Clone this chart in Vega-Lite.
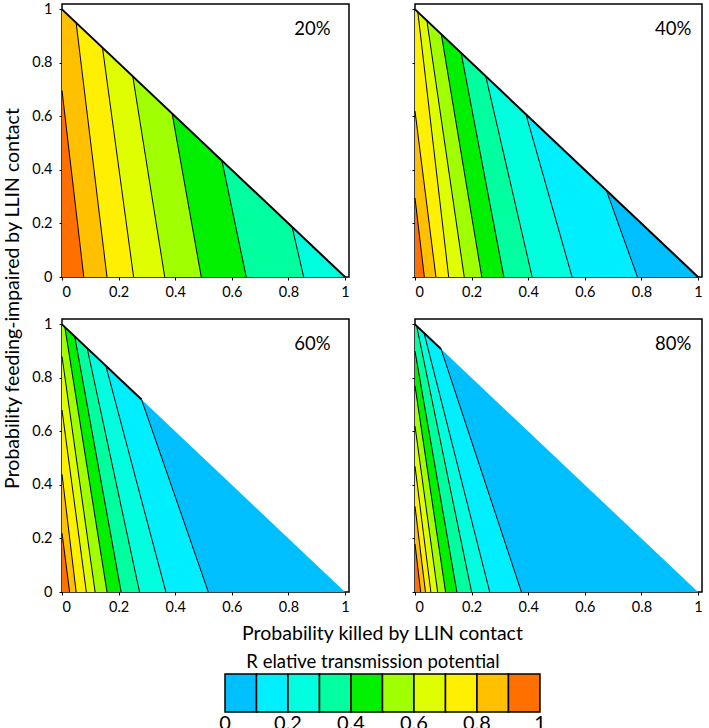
{
  "$schema": "https://vega.github.io/schema/vega-lite/v6.json",
  "padding": {"left": 1, "top": 0, "right": 4, "bottom": 0},
  "autosize": {"type": "pad"},
  "config": {
    "font": "Lato",
    "view": {"stroke": "black", "strokeWidth": 1.5},
    "axis": {"grid": false, "domain": false, "labelFont": "Lato", "labelFontSize": 14.5, "labelColor": "black", "tickColor": "black", "titleFont": "Lato", "titleFontWeight": "normal", "titleColor": "black", "titleFontSize": 19.5},
    "title": {"font": "Lato", "fontWeight": "normal", "color": "black"},
    "text": {"font": "Lato"}
  },
  "datasets": {
    "bands": [
      {"panel":"20%","level":2,"y":0,"x":1},{"panel":"20%","level":2,"y":1,"x":0},
      {"panel":"20%","level":3,"y":0,"x":0.854},{"panel":"20%","level":3,"y":0.187,"x":0.813},{"panel":"20%","level":3,"y":1,"x":0},
      {"panel":"20%","level":4,"y":0,"x":0.651},{"panel":"20%","level":4,"y":0.435,"x":0.565},{"panel":"20%","level":4,"y":1,"x":0},
      {"panel":"20%","level":5,"y":0,"x":0.492},{"panel":"20%","level":5,"y":0.611,"x":0.389},{"panel":"20%","level":5,"y":1,"x":0},
      {"panel":"20%","level":6,"y":0,"x":0.363},{"panel":"20%","level":6,"y":0.75,"x":0.25},{"panel":"20%","level":6,"y":1,"x":0},
      {"panel":"20%","level":7,"y":0,"x":0.253},{"panel":"20%","level":7,"y":0.857,"x":0.143},{"panel":"20%","level":7,"y":1,"x":0},
      {"panel":"20%","level":8,"y":0,"x":0.159},{"panel":"20%","level":8,"y":0.95,"x":0.05},{"panel":"20%","level":8,"y":1,"x":0},
      {"panel":"20%","level":9,"y":0,"x":0.077},{"panel":"20%","level":9,"y":0.697,"x":0},

      {"panel":"40%","level":0,"y":0,"x":1},{"panel":"40%","level":0,"y":1,"x":0},
      {"panel":"40%","level":1,"y":0,"x":0.786},{"panel":"40%","level":1,"y":0.324,"x":0.676},{"panel":"40%","level":1,"y":1,"x":0},
      {"panel":"40%","level":2,"y":0,"x":0.555},{"panel":"40%","level":2,"y":0.608,"x":0.392},{"panel":"40%","level":2,"y":1,"x":0},
      {"panel":"40%","level":3,"y":0,"x":0.414},{"panel":"40%","level":3,"y":0.75,"x":0.25},{"panel":"40%","level":3,"y":1,"x":0},
      {"panel":"40%","level":4,"y":0,"x":0.314},{"panel":"40%","level":4,"y":0.837,"x":0.163},{"panel":"40%","level":4,"y":1,"x":0},
      {"panel":"40%","level":5,"y":0,"x":0.236},{"panel":"40%","level":5,"y":0.907,"x":0.093},{"panel":"40%","level":5,"y":1,"x":0},
      {"panel":"40%","level":6,"y":0,"x":0.174},{"panel":"40%","level":6,"y":0.958,"x":0.042},{"panel":"40%","level":6,"y":1,"x":0},
      {"panel":"40%","level":7,"y":0,"x":0.119},{"panel":"40%","level":7,"y":0.99,"x":0.01},{"panel":"40%","level":7,"y":1,"x":0},
      {"panel":"40%","level":8,"y":0,"x":0.074},{"panel":"40%","level":8,"y":0.62,"x":0},
      {"panel":"40%","level":9,"y":0,"x":0.033},{"panel":"40%","level":9,"y":0.295,"x":0},

      {"panel":"60%","level":0,"y":0,"x":1},{"panel":"60%","level":0,"y":1,"x":0},
      {"panel":"60%","level":1,"y":0,"x":0.517},{"panel":"60%","level":1,"y":0.719,"x":0.281},{"panel":"60%","level":1,"y":1,"x":0},
      {"panel":"60%","level":2,"y":0,"x":0.367},{"panel":"60%","level":2,"y":0.845,"x":0.155},{"panel":"60%","level":2,"y":1,"x":0},
      {"panel":"60%","level":3,"y":0,"x":0.274},{"panel":"60%","level":3,"y":0.911,"x":0.089},{"panel":"60%","level":3,"y":1,"x":0},
      {"panel":"60%","level":4,"y":0,"x":0.209},{"panel":"60%","level":4,"y":0.955,"x":0.045},{"panel":"60%","level":4,"y":1,"x":0},
      {"panel":"60%","level":5,"y":0,"x":0.159},{"panel":"60%","level":5,"y":0.99,"x":0.01},{"panel":"60%","level":5,"y":1,"x":0},
      {"panel":"60%","level":6,"y":0,"x":0.117},{"panel":"60%","level":6,"y":0.88,"x":0},
      {"panel":"60%","level":7,"y":0,"x":0.086},{"panel":"60%","level":7,"y":0.68,"x":0},
      {"panel":"60%","level":8,"y":0,"x":0.05},{"panel":"60%","level":8,"y":0.44,"x":0},
      {"panel":"60%","level":9,"y":0,"x":0.027},{"panel":"60%","level":9,"y":0.22,"x":0},

      {"panel":"80%","level":0,"y":0,"x":1},{"panel":"80%","level":0,"y":1,"x":0},
      {"panel":"80%","level":1,"y":0,"x":0.376},{"panel":"80%","level":1,"y":0.908,"x":0.092},{"panel":"80%","level":1,"y":1,"x":0},
      {"panel":"80%","level":2,"y":0,"x":0.264},{"panel":"80%","level":2,"y":0.968,"x":0.032},{"panel":"80%","level":2,"y":1,"x":0},
      {"panel":"80%","level":3,"y":0,"x":0.2},{"panel":"80%","level":3,"y":0.994,"x":0.006},{"panel":"80%","level":3,"y":1,"x":0},
      {"panel":"80%","level":4,"y":0,"x":0.148},{"panel":"80%","level":4,"y":0.9,"x":0},
      {"panel":"80%","level":5,"y":0,"x":0.108},{"panel":"80%","level":5,"y":0.77,"x":0},
      {"panel":"80%","level":6,"y":0,"x":0.08},{"panel":"80%","level":6,"y":0.62,"x":0},
      {"panel":"80%","level":7,"y":0,"x":0.056},{"panel":"80%","level":7,"y":0.47,"x":0},
      {"panel":"80%","level":8,"y":0,"x":0.037},{"panel":"80%","level":8,"y":0.32,"x":0},
      {"panel":"80%","level":9,"y":0,"x":0.02},{"panel":"80%","level":9,"y":0.18,"x":0}
    ],
    "contours": [
      {"panel":"20%","id":3,"x":0.854,"y":0},{"panel":"20%","id":3,"x":0.813,"y":0.187},
      {"panel":"20%","id":4,"x":0.651,"y":0},{"panel":"20%","id":4,"x":0.565,"y":0.435},
      {"panel":"20%","id":5,"x":0.492,"y":0},{"panel":"20%","id":5,"x":0.389,"y":0.611},
      {"panel":"20%","id":6,"x":0.363,"y":0},{"panel":"20%","id":6,"x":0.25,"y":0.75},
      {"panel":"20%","id":7,"x":0.253,"y":0},{"panel":"20%","id":7,"x":0.143,"y":0.857},
      {"panel":"20%","id":8,"x":0.159,"y":0},{"panel":"20%","id":8,"x":0.05,"y":0.95},
      {"panel":"20%","id":9,"x":0.077,"y":0},{"panel":"20%","id":9,"x":0,"y":0.697},

      {"panel":"40%","id":1,"x":0.786,"y":0},{"panel":"40%","id":1,"x":0.676,"y":0.324},
      {"panel":"40%","id":2,"x":0.555,"y":0},{"panel":"40%","id":2,"x":0.392,"y":0.608},
      {"panel":"40%","id":3,"x":0.414,"y":0},{"panel":"40%","id":3,"x":0.25,"y":0.75},
      {"panel":"40%","id":4,"x":0.314,"y":0},{"panel":"40%","id":4,"x":0.163,"y":0.837},
      {"panel":"40%","id":5,"x":0.236,"y":0},{"panel":"40%","id":5,"x":0.093,"y":0.907},
      {"panel":"40%","id":6,"x":0.174,"y":0},{"panel":"40%","id":6,"x":0.042,"y":0.958},
      {"panel":"40%","id":7,"x":0.119,"y":0},{"panel":"40%","id":7,"x":0.01,"y":0.99},
      {"panel":"40%","id":8,"x":0.074,"y":0},{"panel":"40%","id":8,"x":0,"y":0.62},
      {"panel":"40%","id":9,"x":0.033,"y":0},{"panel":"40%","id":9,"x":0,"y":0.295},

      {"panel":"60%","id":1,"x":0.517,"y":0},{"panel":"60%","id":1,"x":0.281,"y":0.719},
      {"panel":"60%","id":2,"x":0.367,"y":0},{"panel":"60%","id":2,"x":0.155,"y":0.845},
      {"panel":"60%","id":3,"x":0.274,"y":0},{"panel":"60%","id":3,"x":0.089,"y":0.911},
      {"panel":"60%","id":4,"x":0.209,"y":0},{"panel":"60%","id":4,"x":0.045,"y":0.955},
      {"panel":"60%","id":5,"x":0.159,"y":0},{"panel":"60%","id":5,"x":0.01,"y":0.99},
      {"panel":"60%","id":6,"x":0.117,"y":0},{"panel":"60%","id":6,"x":0,"y":0.88},
      {"panel":"60%","id":7,"x":0.086,"y":0},{"panel":"60%","id":7,"x":0,"y":0.68},
      {"panel":"60%","id":8,"x":0.05,"y":0},{"panel":"60%","id":8,"x":0,"y":0.44},
      {"panel":"60%","id":9,"x":0.027,"y":0},{"panel":"60%","id":9,"x":0,"y":0.22},

      {"panel":"80%","id":1,"x":0.376,"y":0},{"panel":"80%","id":1,"x":0.092,"y":0.908},
      {"panel":"80%","id":2,"x":0.264,"y":0},{"panel":"80%","id":2,"x":0.032,"y":0.968},
      {"panel":"80%","id":3,"x":0.2,"y":0},{"panel":"80%","id":3,"x":0.006,"y":0.994},
      {"panel":"80%","id":4,"x":0.148,"y":0},{"panel":"80%","id":4,"x":0,"y":0.9},
      {"panel":"80%","id":5,"x":0.108,"y":0},{"panel":"80%","id":5,"x":0,"y":0.77},
      {"panel":"80%","id":6,"x":0.08,"y":0},{"panel":"80%","id":6,"x":0,"y":0.62},
      {"panel":"80%","id":7,"x":0.056,"y":0},{"panel":"80%","id":7,"x":0,"y":0.47},
      {"panel":"80%","id":8,"x":0.037,"y":0},{"panel":"80%","id":8,"x":0,"y":0.32},
      {"panel":"80%","id":9,"x":0.02,"y":0},{"panel":"80%","id":9,"x":0,"y":0.18}
    ],
    "edges": [
      {"panel":"20%","x":0,"y":1},{"panel":"20%","x":1,"y":0},
      {"panel":"40%","x":0,"y":1},{"panel":"40%","x":1,"y":0},
      {"panel":"60%","x":0,"y":1},{"panel":"60%","x":0.281,"y":0.719},
      {"panel":"80%","x":0,"y":1},{"panel":"80%","x":0.092,"y":0.908}
    ],
    "legend": [
      {"level":0,"lo":0,"hi":0.1},{"level":1,"lo":0.1,"hi":0.2},{"level":2,"lo":0.2,"hi":0.3},{"level":3,"lo":0.3,"hi":0.4},{"level":4,"lo":0.4,"hi":0.5},
      {"level":5,"lo":0.5,"hi":0.6},{"level":6,"lo":0.6,"hi":0.7},{"level":7,"lo":0.7,"hi":0.8},{"level":8,"lo":0.8,"hi":0.9},{"level":9,"lo":0.9,"hi":1}
    ],
    "legendLabels": [
      {"value":0,"label":"0"},{"value":0.2,"label":"0.2"},{"value":0.4,"label":"0.4"},{"value":0.6,"label":"0.6"},{"value":0.8,"label":"0.8"},{"value":1,"label":"1"}
    ]
  },
  "bounds": "flush",
  "columns": 2,
  "spacing": {"row": 42, "column": 66},
  "concat": [
    {
      "width": 287, "height": 273,
      "layer": [
        {"data": {"name": "bands"}, "transform": [{"filter": "datum.panel === '20%'"}],
         "mark": {"type": "area", "orient": "horizontal", "interpolate": "linear"},
         "encoding": {
           "y": {"field": "y", "type": "quantitative", "scale": {"domain": [0, 1.02], "nice": false, "zero": false},
                 "axis": {"values": [0,0.1,0.2,0.3,0.4,0.5,0.6,0.7,0.8,0.9,1], "labelExpr": "round(datum.value*10)%2==0 ? format(datum.value,'~g') : ''", "tickSize": 3, "labelPadding": 7,
                          "title": "Probability feeding-impaired by LLIN contact", "titleX": -44, "titleY": 294, "titleAngle": -90, "titleAlign": "center", "titleBaseline": "alphabetic"}},
           "x": {"field": "x", "type": "quantitative", "stack": null, "scale": {"domain": [0, 1.014], "nice": false},
                 "axis": {"values": [0,0.1,0.2,0.3,0.4,0.5,0.6,0.7,0.8,0.9,1], "labelExpr": "round(datum.value*10)%2==0 ? format(datum.value,'~g') : ''", "tickSize": 3, "labelPadding": 5, "title": null}},
           "color": {"field": "level", "type": "ordinal", "scale": {"domain": [0,1,2,3,4,5,6,7,8,9], "range": ["#00BFFF","#00EFFF","#00FFDF","#00FF9F","#00F000","#A0FF00","#DFFF00","#FFEF00","#FFC000","#FF7000"]}, "legend": null}
         }},
        {"data": {"name": "contours"}, "transform": [{"filter": "datum.panel === '20%'"}],
         "mark": {"type": "line", "color": "black", "strokeWidth": 1},
         "encoding": {"x": {"field": "x", "type": "quantitative"}, "y": {"field": "y", "type": "quantitative"}, "detail": {"field": "id", "type": "nominal"}}},
        {"data": {"name": "edges"}, "transform": [{"filter": "datum.panel === '20%'"}],
         "mark": {"type": "line", "color": "black", "strokeWidth": 2},
         "encoding": {"x": {"field": "x", "type": "quantitative"}, "y": {"field": "y", "type": "quantitative"}}},
        {"data": {"values": [{"label": "20%"}]},
         "mark": {"type": "text", "fontSize": 18.5, "align": "center", "baseline": "middle"},
         "encoding": {"x": {"datum": 0.885}, "y": {"datum": 0.925}, "text": {"field": "label", "type": "nominal"}}}
      ]
    },
    {
      "width": 287, "height": 273,
      "layer": [
        {"data": {"name": "bands"}, "transform": [{"filter": "datum.panel === '40%'"}],
         "mark": {"type": "area", "orient": "horizontal", "interpolate": "linear"},
         "encoding": {
           "y": {"field": "y", "type": "quantitative", "scale": {"domain": [0, 1.02], "nice": false, "zero": false},
                 "axis": {"values": [0,0.1,0.2,0.3,0.4,0.5,0.6,0.7,0.8,0.9,1], "labels": false, "tickSize": 3, "title": null}},
           "x": {"field": "x", "type": "quantitative", "stack": null, "scale": {"domain": [0, 1.014], "nice": false},
                 "axis": {"values": [0,0.1,0.2,0.3,0.4,0.5,0.6,0.7,0.8,0.9,1], "labelExpr": "round(datum.value*10)%2==0 ? format(datum.value,'~g') : ''", "tickSize": 3, "labelPadding": 5, "title": null}},
           "color": {"field": "level", "type": "ordinal", "scale": {"domain": [0,1,2,3,4,5,6,7,8,9], "range": ["#00BFFF","#00EFFF","#00FFDF","#00FF9F","#00F000","#A0FF00","#DFFF00","#FFEF00","#FFC000","#FF7000"]}, "legend": null}
         }},
        {"data": {"name": "contours"}, "transform": [{"filter": "datum.panel === '40%'"}],
         "mark": {"type": "line", "color": "black", "strokeWidth": 1},
         "encoding": {"x": {"field": "x", "type": "quantitative"}, "y": {"field": "y", "type": "quantitative"}, "detail": {"field": "id", "type": "nominal"}}},
        {"data": {"name": "edges"}, "transform": [{"filter": "datum.panel === '40%'"}],
         "mark": {"type": "line", "color": "black", "strokeWidth": 2},
         "encoding": {"x": {"field": "x", "type": "quantitative"}, "y": {"field": "y", "type": "quantitative"}}},
        {"data": {"values": [{"label": "40%"}]},
         "mark": {"type": "text", "fontSize": 18.5, "align": "center", "baseline": "middle"},
         "encoding": {"x": {"datum": 0.912}, "y": {"datum": 0.925}, "text": {"field": "label", "type": "nominal"}}}
      ]
    },
    {
      "width": 287, "height": 273,
      "layer": [
        {"data": {"name": "bands"}, "transform": [{"filter": "datum.panel === '60%'"}],
         "mark": {"type": "area", "orient": "horizontal", "interpolate": "linear"},
         "encoding": {
           "y": {"field": "y", "type": "quantitative", "scale": {"domain": [0, 1.02], "nice": false, "zero": false},
                 "axis": {"values": [0,0.1,0.2,0.3,0.4,0.5,0.6,0.7,0.8,0.9,1], "labelExpr": "round(datum.value*10)%2==0 ? format(datum.value,'~g') : ''", "tickSize": 3, "labelPadding": 7, "title": null}},
           "x": {"field": "x", "type": "quantitative", "stack": null, "scale": {"domain": [0, 1.014], "nice": false},
                 "axis": {"values": [0,0.1,0.2,0.3,0.4,0.5,0.6,0.7,0.8,0.9,1], "labelExpr": "round(datum.value*10)%2==0 ? format(datum.value,'~g') : ''", "tickSize": 3, "labelPadding": 5,
                          "title": "Probability killed by LLIN contact", "titleX": 320, "titleY": 47, "titleAlign": "center", "titleBaseline": "alphabetic"}},
           "color": {"field": "level", "type": "ordinal", "scale": {"domain": [0,1,2,3,4,5,6,7,8,9], "range": ["#00BFFF","#00EFFF","#00FFDF","#00FF9F","#00F000","#A0FF00","#DFFF00","#FFEF00","#FFC000","#FF7000"]}, "legend": null}
         }},
        {"data": {"name": "contours"}, "transform": [{"filter": "datum.panel === '60%'"}],
         "mark": {"type": "line", "color": "black", "strokeWidth": 1},
         "encoding": {"x": {"field": "x", "type": "quantitative"}, "y": {"field": "y", "type": "quantitative"}, "detail": {"field": "id", "type": "nominal"}}},
        {"data": {"name": "edges"}, "transform": [{"filter": "datum.panel === '60%'"}],
         "mark": {"type": "line", "color": "black", "strokeWidth": 2},
         "encoding": {"x": {"field": "x", "type": "quantitative"}, "y": {"field": "y", "type": "quantitative"}}},
        {"data": {"values": [{"label": "60%"}]},
         "mark": {"type": "text", "fontSize": 18.5, "align": "center", "baseline": "middle"},
         "encoding": {"x": {"datum": 0.885}, "y": {"datum": 0.925}, "text": {"field": "label", "type": "nominal"}}}
      ]
    },
    {
      "width": 287, "height": 273,
      "layer": [
        {"data": {"name": "bands"}, "transform": [{"filter": "datum.panel === '80%'"}],
         "mark": {"type": "area", "orient": "horizontal", "interpolate": "linear"},
         "encoding": {
           "y": {"field": "y", "type": "quantitative", "scale": {"domain": [0, 1.02], "nice": false, "zero": false},
                 "axis": {"values": [0,0.1,0.2,0.3,0.4,0.5,0.6,0.7,0.8,0.9,1], "labels": false, "tickSize": 3, "title": null}},
           "x": {"field": "x", "type": "quantitative", "stack": null, "scale": {"domain": [0, 1.014], "nice": false},
                 "axis": {"values": [0,0.1,0.2,0.3,0.4,0.5,0.6,0.7,0.8,0.9,1], "labelExpr": "round(datum.value*10)%2==0 ? format(datum.value,'~g') : ''", "tickSize": 3, "labelPadding": 5, "title": null}},
           "color": {"field": "level", "type": "ordinal", "scale": {"domain": [0,1,2,3,4,5,6,7,8,9], "range": ["#00BFFF","#00EFFF","#00FFDF","#00FF9F","#00F000","#A0FF00","#DFFF00","#FFEF00","#FFC000","#FF7000"]}, "legend": null}
         }},
        {"data": {"name": "contours"}, "transform": [{"filter": "datum.panel === '80%'"}],
         "mark": {"type": "line", "color": "black", "strokeWidth": 1},
         "encoding": {"x": {"field": "x", "type": "quantitative"}, "y": {"field": "y", "type": "quantitative"}, "detail": {"field": "id", "type": "nominal"}}},
        {"data": {"name": "edges"}, "transform": [{"filter": "datum.panel === '80%'"}],
         "mark": {"type": "line", "color": "black", "strokeWidth": 2},
         "encoding": {"x": {"field": "x", "type": "quantitative"}, "y": {"field": "y", "type": "quantitative"}}},
        {"data": {"values": [{"label": "80%"}]},
         "mark": {"type": "text", "fontSize": 18.5, "align": "center", "baseline": "middle"},
         "encoding": {"x": {"datum": 0.912}, "y": {"datum": 0.925}, "text": {"field": "label", "type": "nominal"}}}
      ]
    },
    {
      "width": 287, "height": 78,
      "view": {"stroke": null},
      "title": {"text": "R elative transmission potential", "fontSize": 18.5, "baseline": "alphabetic", "offset": 0, "dy": 52, "dx": 311, "anchor": "start", "align": "center", "frame": "group"},
      "layer": [
        {"data": {"name": "legend"},
         "mark": {"type": "rect", "stroke": "black", "strokeWidth": 1.5},
         "encoding": {
           "x": {"field": "lo", "type": "quantitative", "scale": {"domain": [-0.5175, 0.3937], "nice": false, "zero": false}, "axis": null},
           "x2": {"field": "hi"},
           "y": {"datum": 0, "type": "quantitative", "scale": {"domain": [0, 78], "nice": false}, "axis": null},
           "y2": {"datum": 38},
           "color": {"field": "level", "type": "ordinal", "scale": {"domain": [0,1,2,3,4,5,6,7,8,9], "range": ["#00BFFF","#00EFFF","#00FFDF","#00FF9F","#00F000","#A0FF00","#DFFF00","#FFEF00","#FFC000","#FF7000"]}, "legend": null}
         }},
        {"data": {"name": "legendLabels"},
         "mark": {"type": "text", "fontSize": 20, "align": "center", "baseline": "top"},
         "encoding": {
           "x": {"field": "value", "type": "quantitative"},
           "y": {"datum": -2, "type": "quantitative"},
           "text": {"field": "label", "type": "nominal"}
         }}
      ]
    }
  ]
}
